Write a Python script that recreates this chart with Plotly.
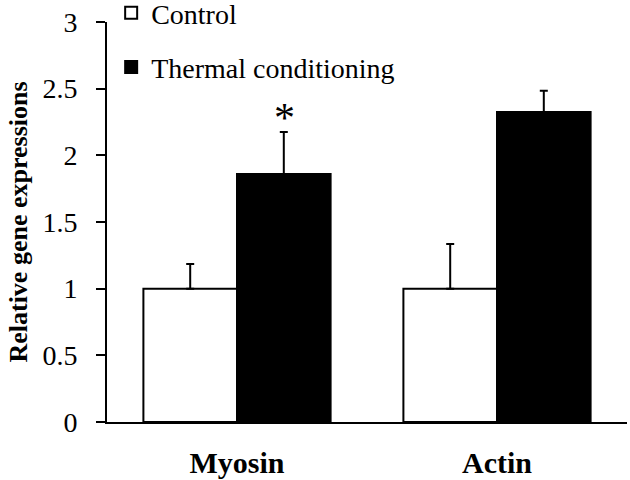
import plotly.graph_objects as go

genes = ["Myosin", "Actin"]
control = [1.0, 1.0]
control_err = [0.185, 0.335]
thermal = [1.86, 2.325]
thermal_err = [0.315, 0.16]
sig_marks = ["*", ""]
y_ticks = [0, 0.5, 1, 1.5, 2, 2.5, 3]
y_tick_text = ["0", "0.5", "1", "1.5", "2", "2.5", "3"]

FONT = "Liberation Serif"

fig = go.Figure()
fig.add_trace(go.Bar(
    name="Control", x=genes, y=control, legendgroup="c",
    marker=dict(color="white", line=dict(color="black", width=2)),
    error_y=dict(type="data", array=control_err, symmetric=False, arrayminus=[0, 0],
                 color="black", thickness=2, width=4),
))
fig.add_trace(go.Bar(
    name="Thermal conditioning", x=genes, y=thermal, legendgroup="t",
    marker=dict(color="black", line=dict(color="black", width=2)),
    error_y=dict(type="data", array=thermal_err, symmetric=False, arrayminus=[0, 0],
                 color="black", thickness=2, width=4),
))

for g, v, e, m in zip(genes, thermal, thermal_err, sig_marks):
    if m:
        fig.add_annotation(x=g, y=v + e, xref="x", yref="y", text=m, showarrow=False,
                           xshift=47, yanchor="bottom", yshift=-11,
                           font=dict(family=FONT, size=42, color="black"))

fig.update_layout(
    width=630, height=480,
    margin=dict(l=107, r=3, t=22, b=58, autoexpand=False),
    paper_bgcolor="white", plot_bgcolor="white",
    barmode="group", bargap=0.28, bargroupgap=0,
    font=dict(family=FONT, color="black"),
    showlegend=True,
    legend=dict(x=0.008, y=1.085, xanchor="left", yanchor="top",
                font=dict(family=FONT, size=28, color="black"),
                tracegroupgap=15, itemwidth=30, bgcolor="rgba(0,0,0,0)"),
    xaxis=dict(showline=True, linecolor="black", linewidth=2, ticks="",
               tickfont=dict(family=FONT, size=30, color="black", weight="bold"),
               ticklabelstandoff=13, showgrid=False, zeroline=False),
    yaxis=dict(range=[0, 3], tickvals=y_ticks, ticktext=y_tick_text,
               showline=True, linecolor="black", linewidth=2,
               ticks="outside", ticklen=9, tickwidth=2, tickcolor="black",
               tickfont=dict(family=FONT, size=28, color="black"),
               ticklabelstandoff=13, showgrid=False, zeroline=False,
               title=dict(text="Relative gene expressions",
                          font=dict(family=FONT, size=26, color="black", weight="bold"),
                          standoff=7)),
)

# remove the page's default body margin so the figure sits at the window's corner
fig.write_html("out.html", config={"displayModeBar": False},
               post_script="document.body.style.margin='0';")
